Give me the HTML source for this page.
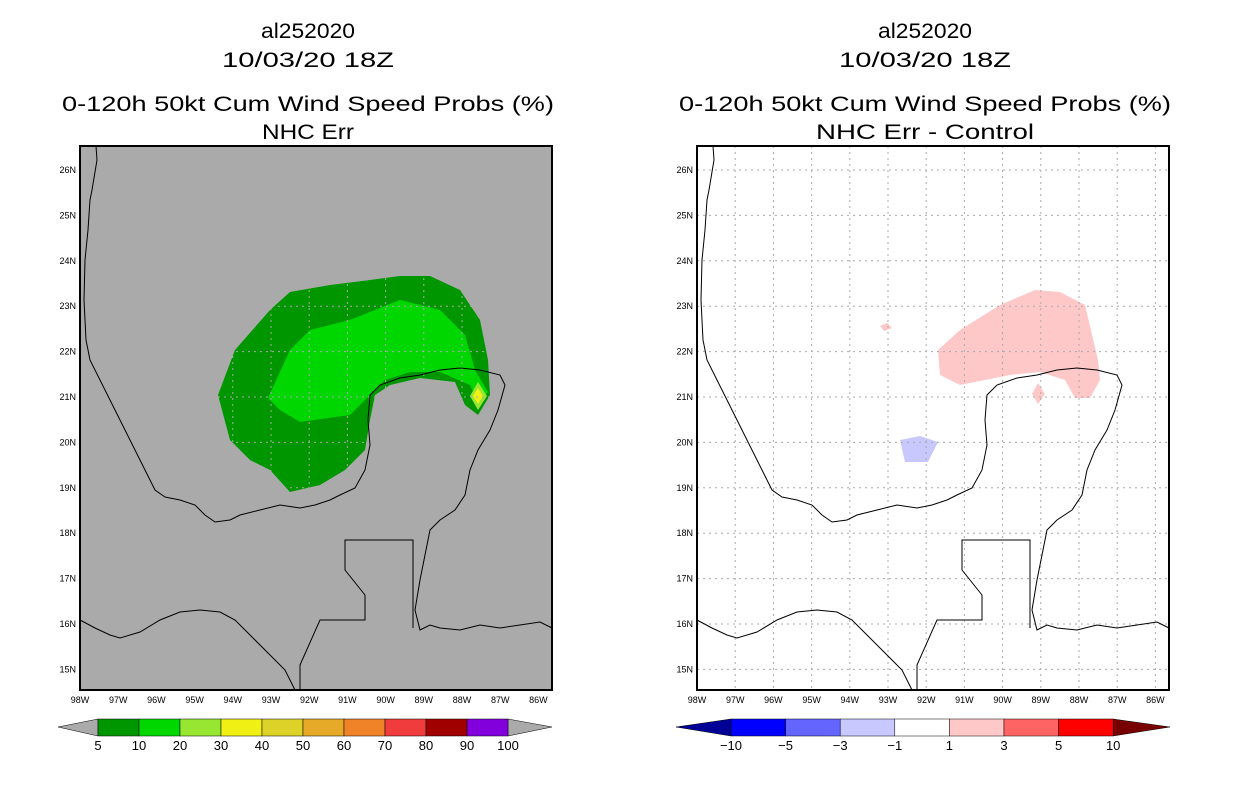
<!DOCTYPE html>
<html><head><meta charset="utf-8"><style>
body{margin:0;background:#fff;}
svg{display:block;font-family:"Liberation Sans","DejaVu Sans",sans-serif;}
</style></head><body>
<svg id="s" width="1236" height="800"></svg>
<script>
const lonTicks=[98,97,96,95,94,93,92,91,90,89,88,87,86];
const latTicks=[26,25,24,23,22,21,20,19,18,17,16,15];
const leftCbLabels=["5","10","20","30","40","50","60","70","80","90","100"];
const leftCbColors=["#009600","#00d700","#96e632","#f0f014","#dcd228","#e6aa28","#f08228","#f03c3c","#a00000","#8200dc"];
const rightCbLabels=["-10","-5","-3","-1","1","3","5","10"];
const rightCbColors=["#0000ff","#6464ff","#c8c8ff","#ffffff","#ffc8c8","#ff6464","#ff0000"];
const coast=[[96,146],[97,160],[92,190],[90,200],[88,230],[85,260],[84,300],[86,340],[90,360],[100,380],[110,400],[125,430],[140,460],[155,490],[165,497],[180,500],[195,505],[205,515],[215,522],[230,520],[240,515],[260,510],[280,505],[300,508],[315,505],[330,500],[340,495],[355,488],[365,470],[370,445],[368,420],[370,395],[380,385],[400,378],[420,375],[440,370],[460,368],[480,370],[500,375],[505,385],[498,410],[490,430],[478,450],[470,470],[465,495],[455,510],[440,520],[430,530],[425,555],[420,580],[415,610],[420,630],[430,625],[440,628],[460,630],[480,625],[500,628],[520,625],[540,622],[552,628]];
const pacific=[[80,620],[95,628],[110,635],[120,638],[140,632],[160,620],[180,612],[200,610],[220,612],[235,620],[250,635],[270,655],[285,670],[295,690]];
const border=[[300,690],[300,665],[320,620],[365,620],[365,595],[345,570],[345,540],[413,540],[413,628]];
const p5=[[218,395],[235,350],[270,310],[290,292],[330,285],[370,280],[400,276],[430,276],[460,290],[480,320],[488,360],[490,395],[478,415],[465,405],[455,382],[420,378],[390,385],[375,395],[370,420],[365,450],[345,470],[320,485],[290,492],[270,470],[250,460],[230,440]];
const p10=[[268,398],[290,350],[310,330],[350,320],[400,300],[440,310],[465,335],[475,370],[488,392],[478,402],[470,385],[440,372],[410,372],[385,380],[370,395],[350,415],[300,422],[280,410]];
const dPink=[[938,350],[960,330],[1000,305],[1035,290],[1060,292],[1085,305],[1098,360],[1100,380],[1090,398],[1075,398],[1065,380],[1040,372],[1010,375],[985,380],[960,385],[940,375]];
const dPink2=[[880,326],[887,323],[892,328],[884,331]];
const dPink3=[[1038,383],[1045,394],[1038,404],[1032,394]];
const dBlue=[[900,440],[920,436],[938,442],[928,462],[905,462]];
const NS="http://www.w3.org/2000/svg",s=document.getElementById('s');
function el(t,a,p){const e=document.createElementNS(NS,t);for(const k in a)e.setAttribute(k,a[k]);(p||s).appendChild(e);return e;}
function txt(x,y,t,sz,anc,p,len){const a={x:x,y:y,'font-size':sz,'text-anchor':anc||'middle',fill:'#000'};if(len){a.textLength=len;a.lengthAdjust='spacingAndGlyphs';}const e=el('text',a,p);e.textContent=t;return e;}
const FT=146,FB=690,FW=472;
function xOf(lon,ox){return ox+(98-lon)*38.2;}
function yOf(lat){return 170+(26-lat)*45.4;}
function pts(a,dx){return a.map(p=>(p[0]+dx)+','+p[1]).join(' ');}
function panel(ox,bg,name,t4,t4len){
  const g=el('g',{});
  el('rect',{x:ox,y:FT,width:FW,height:FB-FT,fill:bg},g);
  const dx=ox-80;
  if(bg!=='#fff'){
    el('polygon',{points:pts(p5,dx),fill:'#009600'},g);
    el('polygon',{points:pts(p10,dx),fill:'#00d700'},g);
    el('polygon',{points:'470,396 478,382 487,396 478,410',fill:'#96e632'},g);
    el('polygon',{points:'473,396 478,388 483,396 478,404',fill:'#f0f014'},g);
  } else {
    [dPink,dPink2,dPink3].forEach(a=>el('polygon',{points:pts(a,0),fill:'#ffc8c8'},g));
    el('polygon',{points:pts(dBlue,0),fill:'#c8c8ff'},g);
  }
  lonTicks.forEach(l=>{const x=xOf(l,ox);if(x>ox&&x<ox+FW)el('line',{x1:x,x2:x,y1:FT,y2:FB,stroke:'#aaa','stroke-dasharray':'2,4'},g);
    txt(x,703,l+'W',9,'middle',g);});
  latTicks.forEach(l=>{const y=yOf(l);el('line',{x1:ox,x2:ox+FW,y1:y,y2:y,stroke:'#aaa','stroke-dasharray':'2,4'},g);
    txt(ox-4,y+3,l+'N',9,'end',g);});
  [coast,pacific,border].forEach(a=>el('polyline',{points:pts(a,dx),fill:'none',stroke:'#000','stroke-width':1},g));
  el('rect',{x:ox,y:FT,width:FW,height:FB-FT,fill:'none',stroke:'#000','stroke-width':2},g);
  const cx=ox+FW/2-8;
  txt(cx,38,'al252020',21,'middle',g,94);txt(cx,67,'10/03/20 18Z',21,'middle',g,172);
  txt(cx,111,'0-120h 50kt Cum Wind Speed Probs (%)',21,'middle',g,492);txt(cx,139,t4,21,'middle',g,t4len);
}
panel(80,'#aaaaaa','left-map','NHC Err',92);
panel(697,'#fff','right-map','NHC Err - Control',218);
const lc=el('g',{});
el('polygon',{points:'58,727 98,719 98,736',fill:'#aaa',stroke:'#000','stroke-width':0.5},lc);
el('polygon',{points:'552,727 508,719 508,736',fill:'#aaa',stroke:'#000','stroke-width':0.5},lc);
leftCbColors.forEach((c,i)=>el('rect',{x:98+i*41,y:719,width:41,height:17,fill:c,stroke:'#000','stroke-width':0.5},lc));
leftCbLabels.forEach((t,i)=>txt(98+i*41,750,t,13,'middle',lc));
const rc=el('g',{});
el('polygon',{points:'676,727 731,719 731,736',fill:'#000096',stroke:'#000','stroke-width':0.5},rc);
el('polygon',{points:'1170,727 1113,719 1113,736',fill:'#780000',stroke:'#000','stroke-width':0.5},rc);
rightCbColors.forEach((c,i)=>el('rect',{x:731+i*54.6,y:719,width:54.6,height:17,fill:c,stroke:'#000','stroke-width':0.5},rc));
rightCbLabels.forEach((t,i)=>txt(731+i*54.6,750,t.replace('-','\u2212'),13,'middle',rc));
</script></body></html>
